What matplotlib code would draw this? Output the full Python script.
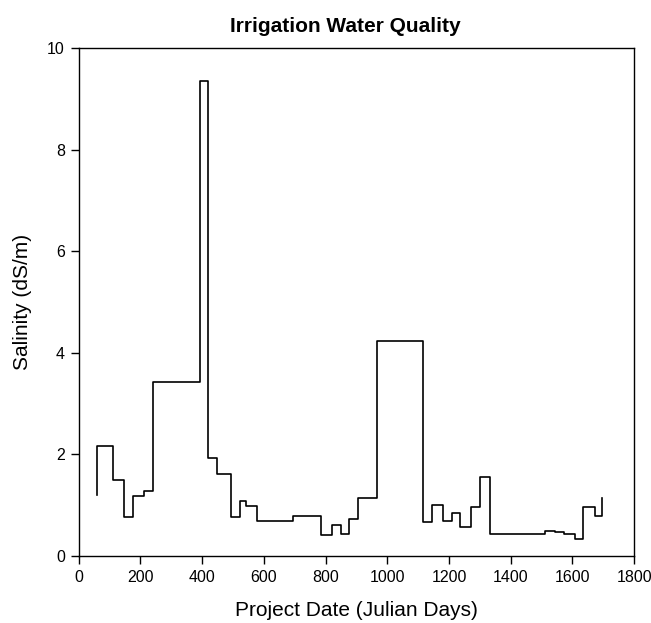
import matplotlib
matplotlib.use("Agg")
import matplotlib.pyplot as plt

# change points of the step record (day the new value starts)
days = [58, 58, 110, 146, 175, 211, 240, 392, 418, 448, 493, 522, 541, 577,
        694, 785, 821, 850, 876, 905, 966, 1116, 1145, 1180, 1210, 1236,
        1271, 1300, 1333, 1511, 1544, 1573, 1608, 1635, 1674, 1696]
salinity = [1.19, 2.17, 1.50, 0.77, 1.17, 1.28, 3.42, 9.35, 1.92, 1.60, 0.77,
            1.07, 0.97, 0.69, 0.79, 0.40, 0.61, 0.43, 0.73, 1.13, 4.22, 0.67,
            0.99, 0.69, 0.85, 0.57, 0.95, 1.56, 0.43, 0.49, 0.47, 0.43, 0.32,
            0.95, 0.79, 1.13]

x_ticks = list(range(0, 1801, 200))
y_ticks = [0, 2, 4, 6, 8, 10]

plt.rcParams['font.family'] = ['Liberation Sans', 'DejaVu Sans']

fig = plt.figure(figsize=(6.51, 6.23), dpi=100)
ax = fig.add_axes([0.121, 0.108, 0.853, 0.815])

ax.plot(days, salinity, drawstyle='steps-post', color='black', linewidth=1.2)

ax.set_xlim(0, 1800)
ax.set_ylim(0, 10)
ax.set_xticks(x_ticks)
ax.set_yticks(y_ticks)
ax.tick_params(direction='out', length=6, width=1, pad=4, labelsize=11.5)
for s in ax.spines.values():
    s.set_linewidth(1.0)

# title sits a little left of the axes centre in the original
fig.text(0.53, 1 - 32 / 623, "Irrigation Water Quality", fontsize=15,
         fontweight='bold', ha='center', va='baseline')
ax.set_xlabel("Project Date (Julian Days)", fontsize=15, labelpad=12)
ax.set_ylabel("Salinity (dS/m)", fontsize=15, labelpad=11)

fig.savefig("out.png", dpi=100)
